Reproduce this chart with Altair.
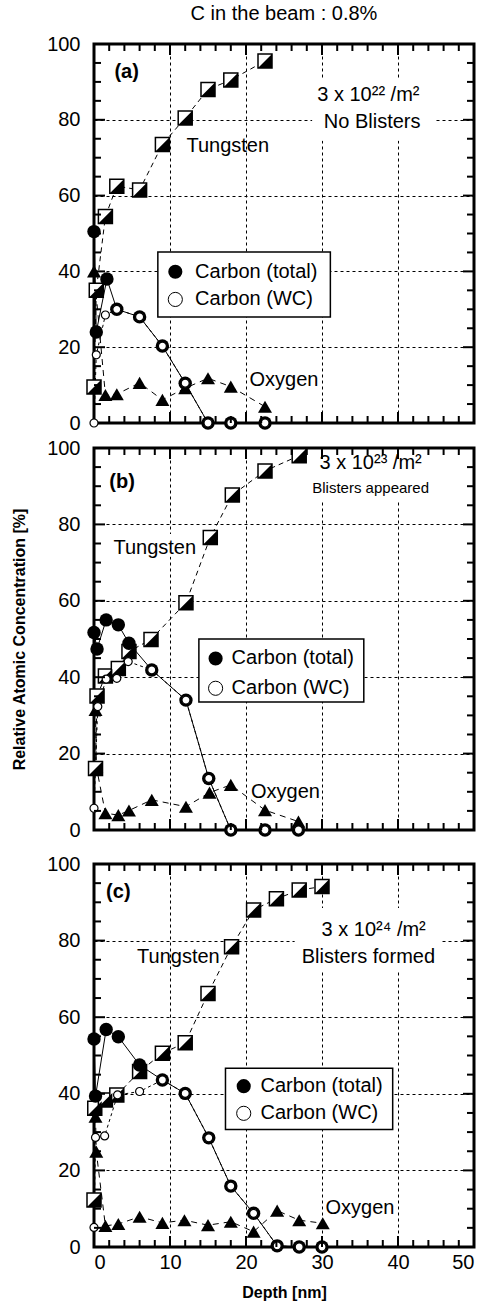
import altair as alt
import pandas as pd

FONT = "Liberation Sans"

# ---------------- axis ticks ----------------
X_MAJOR = [0, 10, 20, 30, 40, 50]
X_MINOR = [2, 4, 6, 8, 12, 14, 16, 18, 22, 24, 26, 28, 32, 34, 36, 38, 42, 44, 46, 48]
X_MAJOR_INNER = [10, 20, 30, 40]
Y_MAJOR = [0, 20, 40, 60, 80, 100]
Y_MINOR = [5, 10, 15, 25, 30, 35, 45, 50, 55, 65, 70, 75, 85, 90, 95]
Y_MAJOR_INNER = [20, 40, 60, 80]

# ---------------- panel (a) : 3 x 10^22 /m2 ----------------
a_w_x = [0, 0.3, 1.5, 3, 6, 9, 12, 15, 18, 22.5]
a_w_y = [9.5, 35, 54.5, 62.5, 61.5, 73.5, 80.5, 88, 90.5, 95.5]
a_ct_x = [0, 0.3, 1.7, 3, 6, 9, 12, 15, 18, 22.5]
a_ct_y = [50.5, 24, 38, 30, 28, 20.3, 10.5, 0, 0, 0]
a_wc_x = [0, 0.3, 1.5, 3, 6, 9, 12, 15, 18, 22.5]
a_wc_y = [0, 18, 28.5, 30, 28, 20.3, 10.5, 0, 0, 0]
a_o_x = [0, 1.5, 3, 6, 9, 12, 15, 18, 22.5]
a_o_y = [40, 7.4, 7.6, 10.6, 6.1, 9.2, 11.8, 9.6, 4.3]

# ---------------- panel (b) : 3 x 10^23 /m2 ----------------
b_w_x = [0.2, 0.4, 1.5, 3.2, 4.6, 7.5, 12.1, 15.3, 18.2, 22.5, 27]
b_w_y = [16.1, 35.1, 40.3, 42.3, 46.7, 49.9, 59.5, 76.6, 87.7, 94, 98]
b_ct_x = [0, 0.4, 1.6, 3.2, 4.6, 7.6, 12.1, 15.1, 18, 22.5, 26.9]
b_ct_y = [51.7, 47.4, 55, 53.7, 48.9, 41.9, 34, 13.5, 0, 0, 0]
b_wc_x = [0, 0.5, 1.6, 3.0, 4.5, 7.6, 12.1, 15.1, 18, 22.5, 26.9]
b_wc_y = [5.7, 32.3, 39.5, 39.7, 44.1, 41.9, 34, 13.5, 0, 0, 0]
b_o_x = [0.2, 0.3, 1.5, 3.2, 4.6, 7.6, 12.1, 15.2, 18, 22.5, 26.9]
b_o_y = [31.4, 16.6, 4.4, 3.9, 5.1, 7.9, 6.1, 9.8, 11.8, 5.2, 2.2]

# ---------------- panel (c) : 3 x 10^24 /m2 ----------------
c_w_x = [0, 0.1, 1.5, 3.0, 6.0, 9.0, 12.0, 15, 18.1, 21, 24, 27, 30]
c_w_y = [12.3, 36.2, 38.4, 39.7, 45.8, 50.6, 53.3, 66.2, 78.4, 88, 90.9, 93.2, 94.1]
c_ct_x = [0, 0.2, 1.6, 3.2, 6.0, 9.0, 12.0, 15.1, 18.0, 21.0, 24.1, 27.0, 30.0]
c_ct_y = [54.3, 39.4, 56.8, 54.9, 47.5, 43.6, 40.1, 28.5, 15.9, 8.8, 0.3, 0, 0]
c_wc_x = [0, 0.2, 1.4, 3.1, 6.0, 9.0, 12.0, 15.1, 18.0, 21.0, 24.1, 27.0, 30.0]
c_wc_y = [5.1, 28.6, 29, 39.7, 40.6, 43.6, 40.1, 28.5, 15.9, 8.8, 0.3, 0, 0]
c_o_x = [0.2, 0.3, 1.5, 3.2, 6.0, 9.0, 11.9, 15.0, 18.0, 21.0, 24.1, 27.0, 30.1]
c_o_y = [34, 24.9, 5.5, 6.0, 7.9, 6.3, 7.0, 5.7, 6.6, 4.0, 9.5, 7.0, 6.2]

LEGEND_LABELS = ["Carbon (total)", "Carbon (WC)"]

W = 380


def xy(xs, ys):
    return pd.DataFrame({"x": xs, "y": ys, "i": list(range(len(xs)))})


def make_panel(H, w, ct, wc, o, texts, small_texts, bold_texts, legend, masks,
               show_x, show_ytitle, title=None):
    xscale = alt.Scale(domain=[0, 50], nice=False, zero=False)
    yscale = alt.Scale(domain=[0, 100], nice=False, zero=False)
    xaxis = alt.Axis(values=X_MAJOR, grid=True, gridDash=[3, 3], gridColor="black",
                     gridOpacity=1, gridWidth=1, domain=False, ticks=False,
                     labels=show_x, labelFontSize=20, labelPadding=5,
                     labelColor="black", titleFontSize=16, titleFontWeight="bold",
                     titlePadding=12, titleColor="black")
    yaxis = alt.Axis(values=Y_MAJOR, grid=True, gridDash=[3, 3], gridColor="black",
                     gridOpacity=1, gridWidth=1, domain=False, ticks=False,
                     labelFontSize=20, labelPadding=14, labelColor="black",
                     titleFontSize=16, titleFontWeight="bold", titlePadding=19,
                     titleColor="black")
    xtitle = "Depth [nm]" if show_x else None
    ytitle = "Relative Atomic Concentration [%]" if show_ytitle else None

    def ex(f):
        return alt.X(f, type="quantitative", scale=xscale, axis=xaxis, title=xtitle)

    def ex2(f):
        return alt.X2(f)

    def ey(f):
        return alt.Y(f, type="quantitative", scale=yscale, axis=yaxis, title=ytitle)

    def ey2(f):
        return alt.Y2(f)

    layers = []

    # white masks behind annotation text
    if masks:
        mdf = pd.DataFrame(masks, columns=["x", "x2", "y", "y2"])
        layers.append(alt.Chart(mdf).mark_rect(fill="white", stroke=None)
                      .encode(x=ex("x"), x2=ex2("x2"), y=ey("y"), y2=ey2("y2")))

    wdf, ctdf, wcdf, odf = xy(*w), xy(*ct), xy(*wc), xy(*o)

    # lines
    layers.append(alt.Chart(wdf).mark_line(color="black", strokeWidth=1, strokeDash=[5, 4])
                  .encode(x=ex("x"), y=ey("y"), order="i:Q"))
    layers.append(alt.Chart(odf).mark_line(color="black", strokeWidth=1, strokeDash=[6, 5])
                  .encode(x=ex("x"), y=ey("y"), order="i:Q"))
    layers.append(alt.Chart(wcdf).mark_line(color="black", strokeWidth=1, strokeDash=[3, 3])
                  .encode(x=ex("x"), y=ey("y"), order="i:Q"))
    layers.append(alt.Chart(ctdf).mark_line(color="black", strokeWidth=1)
                  .encode(x=ex("x"), y=ey("y"), order="i:Q"))

    # oxygen triangles
    layers.append(alt.Chart(odf).mark_point(shape="triangle-up", filled=True, fill="black",
                                            size=196, opacity=1, strokeWidth=0)
                  .encode(x=ex("x"), y=ey("y")))
    # tungsten half-filled squares
    layers.append(alt.Chart(wdf).mark_point(shape="square", filled=True, fill="white",
                                            stroke="black", strokeWidth=1.5, size=196,
                                            opacity=1)
                  .encode(x=ex("x"), y=ey("y")))
    layers.append(alt.Chart(wdf).mark_point(shape="M -1 1 L 1 -1 L 1 1 Z", filled=True,
                                            fill="black", size=196, opacity=1,
                                            strokeWidth=0)
                  .encode(x=ex("x"), y=ey("y")))
    # carbon total (filled circles)
    layers.append(alt.Chart(ctdf).mark_circle(color="black", size=180, opacity=1)
                  .encode(x=ex("x"), y=ey("y")))
    # carbon WC (open circles)
    layers.append(alt.Chart(wcdf).mark_point(shape="circle", filled=True, fill="white",
                                             stroke="black", strokeWidth=1.2, size=64,
                                             opacity=1)
                  .encode(x=ex("x"), y=ey("y")))

    # legend box
    bx1, bx2, by1, by2, dotx, textx, ly1, ly2 = legend
    ldf = pd.DataFrame({"x": [bx1], "x2": [bx2], "y": [by1], "y2": [by2]})
    layers.append(alt.Chart(ldf).mark_rect(fill="white", stroke="black", strokeWidth=1.5)
                  .encode(x=ex("x"), x2=ex2("x2"), y=ey("y"), y2=ey2("y2")))
    layers.append(alt.Chart(pd.DataFrame({"x": [dotx], "y": [ly1]}))
                  .mark_circle(color="black", size=200, opacity=1)
                  .encode(x=ex("x"), y=ey("y")))
    layers.append(alt.Chart(pd.DataFrame({"x": [dotx], "y": [ly2]}))
                  .mark_point(shape="circle", filled=True, fill="white", stroke="black",
                              strokeWidth=1, size=200, opacity=1)
                  .encode(x=ex("x"), y=ey("y")))
    layers.append(alt.Chart(pd.DataFrame({"x": [textx, textx], "y": [ly1, ly2],
                                          "t": LEGEND_LABELS}))
                  .mark_text(fontSize=20, align="left", baseline="middle", color="black",
                             font=FONT)
                  .encode(x=ex("x"), y=ey("y"), text="t:N"))

    # annotations
    for items, size, weight in ((texts, 20, "normal"), (small_texts, 15, "normal"),
                                (bold_texts, 20, "bold")):
        if not items:
            continue
        tdf = pd.DataFrame(items, columns=["t", "x", "y"])
        layers.append(alt.Chart(tdf).mark_text(fontSize=size, fontWeight=weight,
                                               align="center", baseline="middle",
                                               color="black", font=FONT)
                      .encode(x=ex("x"), y=ey("y"), text="t:N"))

    # inward ticks on all four sides
    def xticks(vals, ln):
        d = pd.DataFrame({"v": vals})
        bot = alt.Chart(d).mark_rule(color="black", strokeWidth=2).encode(
            x=ex("v"), y=alt.value(H), y2=alt.value(H - ln))
        top = alt.Chart(d).mark_rule(color="black", strokeWidth=2).encode(
            x=ex("v"), y=alt.value(0), y2=alt.value(ln))
        return [bot, top]

    def yticks(vals, ln):
        d = pd.DataFrame({"v": vals})
        left = alt.Chart(d).mark_rule(color="black", strokeWidth=2).encode(
            y=ey("v"), x=alt.value(0), x2=alt.value(ln))
        right = alt.Chart(d).mark_rule(color="black", strokeWidth=2).encode(
            y=ey("v"), x=alt.value(W), x2=alt.value(W - ln))
        return [left, right]

    layers += xticks(X_MINOR, 7) + xticks(X_MAJOR_INNER, 11)
    layers += yticks(Y_MINOR, 7) + yticks(Y_MAJOR_INNER, 11)

    props = dict(width=W, height=H)
    if title is not None:
        props["title"] = alt.TitleParams(title, fontSize=20, fontWeight="normal",
                                         frame="group", anchor="middle", offset=10,
                                         color="black", font=FONT)
    return alt.layer(*layers).properties(**props)


pa = make_panel(
    379, (a_w_x, a_w_y), (a_ct_x, a_ct_y), (a_wc_x, a_wc_y), (a_o_x, a_o_y),
    texts=[("Tungsten", 17.6, 73.0), ("3 x 10²² /m²", 36.1, 86.5),
           ("No Blisters", 36.6, 79.5), ("Oxygen", 25.0, 11.3)],
    small_texts=[],
    bold_texts=[("(a)", 4.3, 92.7)],
    legend=(8.4, 31.1, 28.0, 45.1, 10.7, 13.3, 39.9, 32.6),
    masks=[(28.7, 44.9, 74.5, 91.0)],
    show_x=False, show_ytitle=False, title="C in the beam : 0.8%")

pb = make_panel(
    382, (b_w_x, b_w_y), (b_ct_x, b_ct_y), (b_wc_x, b_wc_y), (b_o_x, b_o_y),
    texts=[("Tungsten", 8.0, 73.7), ("3 x 10²³ /m²", 36.4, 96.0), ("Oxygen", 25.2, 10.0)],
    small_texts=[("Blisters appeared", 36.4, 89.5)],
    bold_texts=[("(b)", 3.7, 91.2)],
    legend=(13.8, 35.5, 33.5, 50.0, 16.0, 18.1, 44.9, 37.1),
    masks=[(29.0, 45.0, 86.0, 99.0), (2.4, 13.8, 71.5, 77.5)],
    show_x=False, show_ytitle=True)

pc = make_panel(
    383, (c_w_x, c_w_y), (c_ct_x, c_ct_y), (c_wc_x, c_wc_y), (c_o_x, c_o_y),
    texts=[("Tungsten", 11.1, 75.8), ("3 x 10²⁴ /m²", 36.8, 82.8),
           ("Blisters formed", 36.1, 75.8), ("Oxygen", 35.0, 10.2)],
    small_texts=[],
    bold_texts=[("(c)", 3.2, 92.8)],
    legend=(17.3, 39.3, 30.7, 46.7, 19.7, 21.9, 42.0, 34.9),
    masks=[(26.4, 45.8, 71.8, 88.5)],
    show_x=True, show_ytitle=False)

inner = alt.vconcat(pb, pc, spacing=34, bounds="flush")
chart = (alt.vconcat(pa, inner, spacing=25, bounds="flush")
         .properties(padding={"left": 10, "top": 2, "right": 0, "bottom": 0})
         .configure(font=FONT)
         .configure_view(stroke="black", strokeWidth=3))

chart.save("out.html", embed_options={"renderer": "svg", "actions": False})
